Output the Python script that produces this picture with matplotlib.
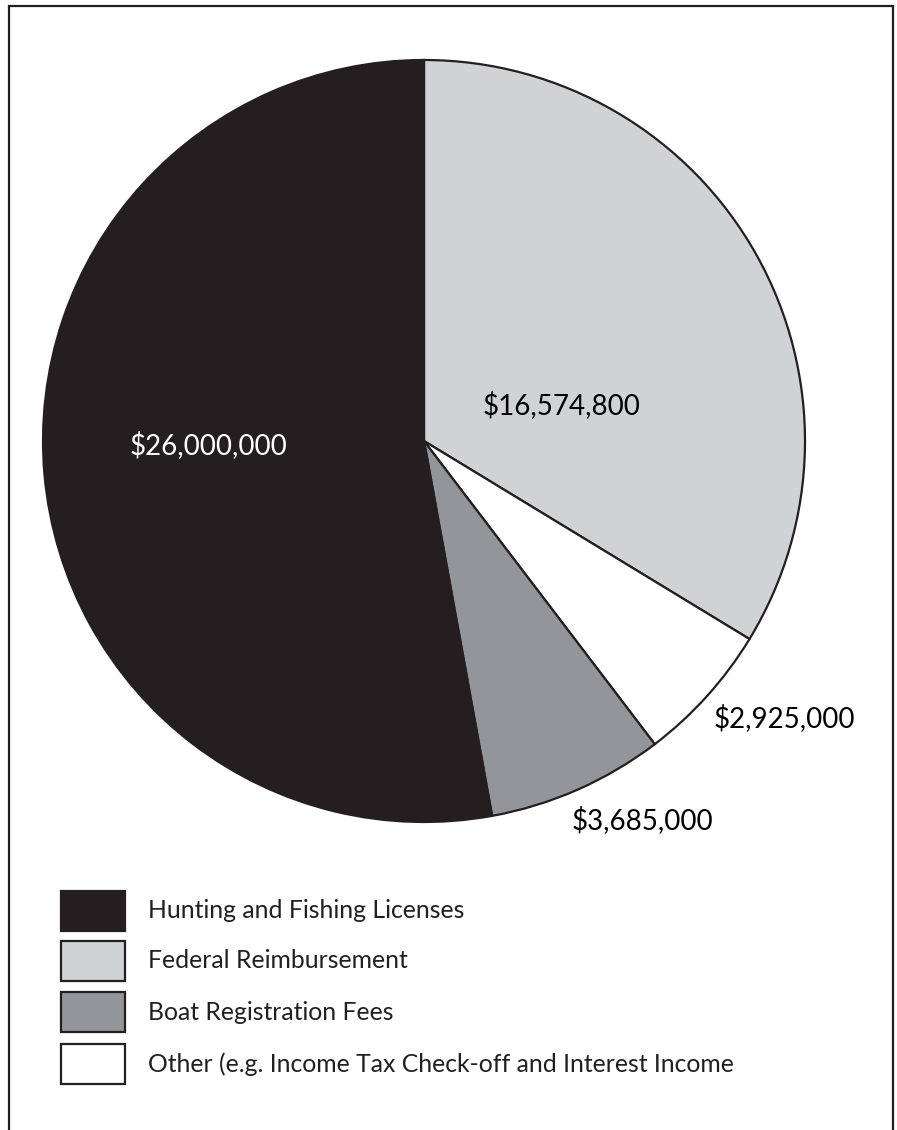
import matplotlib
matplotlib.use("Agg")
import matplotlib.pyplot as plt
from matplotlib.patches import Rectangle

plt.rcParams["font.family"] = ["Lato", "DejaVu Sans"]

# slices in clockwise order starting at 12 o'clock
categories = ["Federal Reimbursement", "Other (e.g. Income Tax Check-off and Interest Income",
              "Boat Registration Fees", "Hunting and Fishing Licenses"]
values = [16574800, 2925000, 3685000, 26000000]
value_labels = ["$16,574,800", "$2,925,000", "$3,685,000", "$26,000,000"]
colors = ["#d1d2d4", "#ffffff", "#939598", "#231f20"]

legend_order = ["Hunting and Fishing Licenses", "Federal Reimbursement",
                "Boat Registration Fees",
                "Other (e.g. Income Tax Check-off and Interest Income"]

W, H = 897, 1130
EDGE = "#231f20"

fig = plt.figure(figsize=(W / 100, H / 100), dpi=100)

# pie axes: center (424, 441), radius 381 px
cx, cy, r = 424, 441, 381
ax = fig.add_axes([(cx - r) / W, (H - cy - r) / H, 2 * r / W, 2 * r / H])
ax.pie(values, colors=colors, startangle=90, counterclock=False, radius=1,
       wedgeprops=dict(edgecolor=EDGE, linewidth=1.6))
ax.set_xlim(-1, 1)
ax.set_ylim(-1, 1)
ax.set_aspect("equal")
ax.axis("off")

# overlay axes in pixel coordinates (y down), drawn on top of the pie
bg = fig.add_axes([0, 0, 1, 1])
bg.set_xlim(0, W)
bg.set_ylim(H, 0)
bg.patch.set_alpha(0)
bg.axis("off")

# value labels (pixel positions)
label_pos = {
    "$16,574,800": (562, 405, "#000000"),
    "$2,925,000": (784, 718, "#000000"),
    "$3,685,000": (642, 820, "#000000"),
    "$26,000,000": (208, 445, "#ffffff"),
}
for lab in value_labels:
    x, y, c = label_pos[lab]
    bg.text(x, y, lab, color=c, fontsize=20, ha="center", va="center")

# legend
box_top = [891, 941, 992, 1044]
for name, top in zip(legend_order, box_top):
    col = colors[categories.index(name)]
    bg.add_patch(Rectangle((61, top), 64, 40, facecolor=col, edgecolor=EDGE, linewidth=1.6))
    bg.text(148, top + 20, name, fontsize=17.8, ha="left", va="center", color="#231f20")

# frame around the figure (open at the bottom)
bg.plot([9, 9], [H, 6], color=EDGE, linewidth=1.6, solid_capstyle="butt")
bg.plot([9, 893], [6, 6], color=EDGE, linewidth=1.6)
bg.plot([893, 893], [6, H], color=EDGE, linewidth=1.6, solid_capstyle="butt")

fig.savefig("out.png", dpi=100)
